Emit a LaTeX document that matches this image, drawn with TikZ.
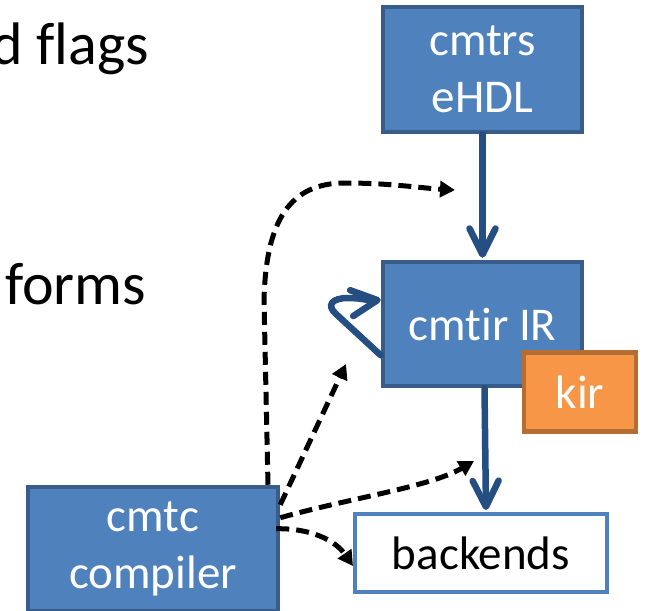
\documentclass[tikz,border=0pt]{standalone}
\usepackage{fontspec}
\setmainfont{Carlito}[Ligatures={NoCommon}]
\usetikzlibrary{arrows.meta}
\definecolor{boxfill}{HTML}{4F81BD}
\definecolor{boxline}{HTML}{385D8A}
\definecolor{flowline}{HTML}{254E82}
\definecolor{kirfill}{HTML}{F79646}
\definecolor{kirline}{HTML}{B66D31}
\tikzset{
  bluebox/.style={draw=boxline, fill=boxfill, line width=4.5pt, text=white,
    align=center, inner sep=0pt, font=\fontsize{47}{57}\selectfont},
  whitebox/.style={draw=boxfill, fill=white, line width=4pt, text=black,
    align=center, inner sep=0pt, font=\fontsize{47}{57}\selectfont},
  kirbox/.style={draw=kirline, fill=kirfill, line width=4.5pt, text=white,
    inner sep=0pt, font=\fontsize{47}{57}\selectfont},
  flow/.style={draw=flowline, line width=6.5pt, line cap=round,
    -{Straight Barb[length=26pt,width=26pt,line width=6.5pt,round]}},
  ctrl/.style={draw=black, line width=5pt, dash pattern=on 13pt off 7pt,
    -{Triangle[length=15pt,width=16pt]}},
  slidetext/.style={inner sep=0pt, anchor=base west, font=\fontsize{60}{72}\selectfont}
}
\begin{document}
\begin{tikzpicture}[x=1pt,y=-1pt]
\useasboundingbox (0,0) rectangle (646,611);

% bullet text fragments
\node[slidetext] (flags) at (-9,64) {d flags};
\node[slidetext] (forms) at (5,304) {forms};

% boxes
\node[bluebox, minimum width=199pt, minimum height=125pt] (cmtrs) at (482.5,69.5) {cmtrs\\eHDL};
\node[bluebox, minimum width=199pt, minimum height=124pt] (cmtir) at (482.5,324) {cmt\kern0pt ir IR};
\node[whitebox, minimum width=252pt, minimum height=78pt] (backends) at (481,553) {backends};
\node[bluebox, minimum width=250pt, minimum height=124pt] (cmtc) at (153,549) {cmtc\\compiler};

% main flow
\draw[flow] (cmtrs.south) -- ([yshift=2pt]cmtir.north);
\draw[flow] ([xshift=2pt]cmtir.south) -- ([xshift=5pt,yshift=2pt]backends.north);
\node[kirbox, minimum width=112pt, minimum height=79pt] (kir) at (580,392) {kir};

% transformation loop on the IR
\coordinate (loopA) at ([yshift=33pt]cmtir.south west);
\coordinate (loopB) at ([yshift=-40pt]cmtir.north west);
\draw[flow] (loopA) -- (336,314) .. controls (326,305) and (332,298) .. (348,298)
  .. controls (362,298) and (370,301) .. (loopB);

% compiler control arrows
\coordinate (c1) at ([xshift=115pt]cmtc.north);
\coordinate (c2) at ([yshift=-20pt]cmtc.north east);
\coordinate (c3) at ([yshift=-33pt]cmtc.north east);
\coordinate (c4) at ([xshift=-4pt,yshift=-44pt]cmtc.north east);
\coordinate (t1) at (455,190);
\coordinate (t2) at (346,364);
\coordinate (t3) at (474,461);
\coordinate (t4) at (353,566);
\draw[ctrl] (c1) -- (264,300) .. controls (266,220) and (290,183) .. (345,183)
  .. controls (390,183) and (420,188) .. (t1);
\draw[ctrl] (c2) -- (t2);
\draw[ctrl] (c3) .. controls (350,498) and (430,487) .. (t3);
\draw[ctrl] (c4) .. controls (310,528) and (335,540) .. (t4);
\end{tikzpicture}
\end{document}
